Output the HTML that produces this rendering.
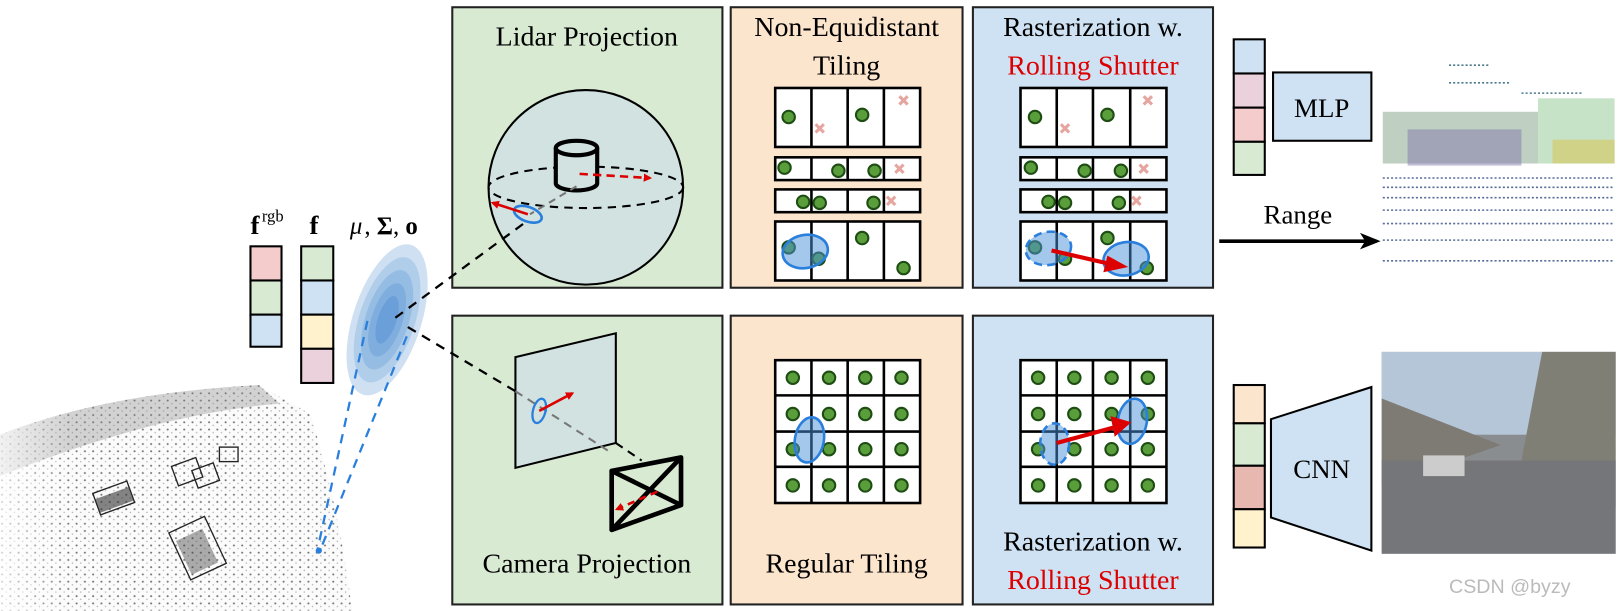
<!DOCTYPE html>
<html><head><meta charset="utf-8"><style>
html,body{margin:0;padding:0;background:#fff;}
svg{display:block;}
text{font-family:"Liberation Serif",serif;}
</style></head><body>
<svg width="1623" height="611" viewBox="0 0 1623 611" xmlns="http://www.w3.org/2000/svg">
<defs>
<marker id="ar" markerWidth="8" markerHeight="8" refX="6" refY="4" orient="auto" markerUnits="userSpaceOnUse"><path d="M0,0 L8,4 L0,8 z" fill="#d00"/></marker>
<marker id="ak" markerWidth="20" markerHeight="16" refX="16" refY="8" orient="auto" markerUnits="userSpaceOnUse"><path d="M0,0 L20,8 L0,16 L5,8 z" fill="#000"/></marker>
<pattern id="spk" width="8" height="7" patternUnits="userSpaceOnUse"><rect width="8" height="7" fill="#fafafa"/><circle cx="2" cy="2" r="1" fill="#555"/><circle cx="6" cy="5" r="0.7" fill="#999"/></pattern>
<linearGradient id="fade" x1="0" y1="0" x2="1" y2="0"><stop offset="0" stop-color="#fff" stop-opacity="0.7"/><stop offset="0.2" stop-color="#fff" stop-opacity="0"/></linearGradient>
</defs>
<g transform="scale(1.035)">
<!-- point cloud -->
<path d="M0,420 Q100,380 250,372 L300,400 Q330,500 340,590 L0,590 z" fill="url(#spk)" opacity="0.8"/>
<path d="M0,420 Q100,380 250,372 L270,390 Q150,400 0,460 z" fill="#888" opacity="0.35"/>
<path d="M0,420 Q100,380 250,372 L300,400 Q330,500 340,590 L0,590 z" fill="url(#fade)"/>
<g fill="none" stroke="#222" stroke-width="1.3">
<rect x="92" y="470" width="35" height="22" transform="rotate(-20 110 480)"/>
<rect x="168" y="446" width="25" height="20" transform="rotate(-20 180 455)"/>
<rect x="188" y="450" width="22" height="18" transform="rotate(-20 200 460)"/>
<rect x="172" y="505" width="38" height="50" transform="rotate(-25 190 530)"/>
<rect x="212" y="432" width="18" height="14"/>
</g>
<g fill="#333"><rect x="92" y="476" width="35" height="14" transform="rotate(-20 110 480)" opacity="0.6"/><rect x="175" y="515" width="28" height="36" transform="rotate(-25 190 530)" opacity="0.4"/></g>
<!-- feature columns -->
<text x="242" y="226" font-size="26" font-weight="bold">f</text><text x="253" y="214" font-size="16">rgb</text>
<text x="299" y="226" font-size="26" font-weight="bold">f</text>
<text x="338" y="226" font-size="24" font-style="italic">μ</text><text x="352" y="226" font-size="24">, <tspan font-weight="bold">Σ</tspan>, <tspan font-weight="bold">o</tspan></text>
<g stroke="#000" stroke-width="2">
<rect x="242" y="238" width="30" height="33" fill="#f4cccc"/><rect x="242" y="271" width="30" height="33" fill="#d9ead3"/><rect x="242" y="304" width="30" height="31" fill="#cfe2f3"/>
<rect x="291" y="238" width="31" height="33" fill="#d9ead3"/><rect x="291" y="271" width="31" height="33" fill="#cfe2f3"/><rect x="291" y="304" width="31" height="33" fill="#fff2cc"/><rect x="291" y="337" width="31" height="33" fill="#ead1dc"/>
</g>
<!-- gaussian -->
<g transform="rotate(18 374 309)">
<ellipse cx="374" cy="309" rx="33" ry="76" fill="#cfe0f2"/><ellipse cx="374" cy="309" rx="27" ry="63" fill="#b0cde9"/><ellipse cx="374" cy="309" rx="21" ry="50" fill="#95bce3"/><ellipse cx="374" cy="309" rx="15" ry="37" fill="#7fadde"/><ellipse cx="374" cy="309" rx="9" ry="24" fill="#6b9fd9"/></g>
<path d="M355,310 L307,530 M393,325 L310,530" stroke="#2a7fdc" stroke-width="2.2" stroke-dasharray="9,7" fill="none"/>
<circle cx="308" cy="532" r="3" fill="#2a7fdc"/>
<!-- panels -->
<g stroke="#222" stroke-width="2">
<rect x="437" y="7" width="261" height="271" fill="#d9ead3"/>
<rect x="706" y="7" width="224" height="271" fill="#fce5cd"/>
<rect x="940" y="7" width="232" height="271" fill="#cfe2f3"/>
<rect x="437" y="305" width="261" height="279" fill="#d9ead3"/>
<rect x="706" y="305" width="224" height="279" fill="#fce5cd"/>
<rect x="940" y="305" width="232" height="279" fill="#cfe2f3"/>
</g>
<text x="567" y="44" font-size="27" text-anchor="middle">Lidar Projection</text>
<text x="818" y="35" font-size="27" text-anchor="middle">Non-Equidistant</text>
<text x="818" y="72" font-size="27" text-anchor="middle">Tiling</text>
<text x="1056" y="35" font-size="27" text-anchor="middle">Rasterization w.</text>
<text x="1056" y="72" font-size="27" text-anchor="middle" fill="#d00">Rolling Shutter</text>
<text x="567" y="553" font-size="27" text-anchor="middle">Camera Projection</text>
<text x="818" y="553" font-size="27" text-anchor="middle">Regular Tiling</text>
<text x="1056" y="532" font-size="27" text-anchor="middle">Rasterization w.</text>
<text x="1056" y="569" font-size="27" text-anchor="middle" fill="#d00">Rolling Shutter</text>
<!-- lidar sphere -->
<circle cx="566" cy="181" r="94" fill="#d1e2e0" stroke="#000" stroke-width="2"/>
<ellipse cx="566" cy="181" rx="94" ry="20" fill="none" stroke="#000" stroke-width="2" stroke-dasharray="8,6"/>
<path d="M537,143 L537,177 A20,7 0 0 0 577,177 L577,143" fill="#d1e2e0" stroke="#000" stroke-width="4"/>
<ellipse cx="557" cy="143" rx="20" ry="7" fill="#d1e2e0" stroke="#000" stroke-width="4"/>
<path d="M557,180 L512,207" stroke="#777" stroke-width="2" stroke-dasharray="7,5"/>
<path d="M560,168 L628,172" stroke="#d00" stroke-width="2.5" stroke-dasharray="8,5" marker-end="url(#ar)"/>
<ellipse cx="510" cy="207" rx="14" ry="7" transform="rotate(20 510 207)" fill="none" stroke="#2a7fdc" stroke-width="2.5"/>
<path d="M510,207 L476,196" stroke="#d00" stroke-width="2.5" marker-end="url(#ar)"/>
<!-- connectors -->
<path d="M382,307 L510,213" stroke="#000" stroke-width="2.2" stroke-dasharray="9,7"/>
<path d="M394,316 L498,378" stroke="#000" stroke-width="2.2" stroke-dasharray="9,7"/>
<!-- camera -->
<path d="M498,345 L595,322 L595,428 L498,452 z" fill="#d1e2e0" stroke="#000" stroke-width="2"/>
<path d="M498,378 L590,437" stroke="#777" stroke-width="2" stroke-dasharray="8,6"/>
<ellipse cx="521" cy="397" rx="6" ry="12" transform="rotate(15 521 397)" fill="none" stroke="#2a7fdc" stroke-width="2.2"/>
<path d="M521,397 L553,380" stroke="#d00" stroke-width="2.5" marker-end="url(#ar)"/>
<path d="M595,428 L620,445" stroke="#000" stroke-width="2" stroke-dasharray="8,6"/>
<g stroke="#000" stroke-width="4.5" fill="none" stroke-linejoin="round">
<path d="M591,455 L658,442 L658,488 L591,512 z"/><path d="M591,455 L658,488 M658,442 L591,512"/>
</g>
<path d="M635,475 L596,492" stroke="#d00" stroke-width="2.5" stroke-dasharray="7,5" marker-end="url(#ar)"/>
<!-- grids -->
<g stroke="#000" stroke-width="2.5" fill="#fff">
<rect x="749" y="85" width="140" height="57"/><rect x="749" y="152" width="140" height="22"/><rect x="749" y="183" width="140" height="22"/><rect x="749" y="214" width="140" height="57"/>
<rect x="986" y="85" width="141" height="57"/><rect x="986" y="152" width="141" height="22"/><rect x="986" y="183" width="141" height="22"/><rect x="986" y="214" width="141" height="57"/>
<rect x="749" y="348" width="140" height="138"/><rect x="986" y="348" width="141" height="138"/>
</g>
<g stroke="#000" stroke-width="2.5">
<path d="M784,85 V142 M819,85 V142 M854,85 V142 M784,152 V174 M819,152 V174 M854,152 V174 M784,183 V205 M819,183 V205 M854,183 V205 M784,214 V271 M819,214 V271 M854,214 V271"/>
<path d="M1021,85 V142 M1056,85 V142 M1092,85 V142 M1021,152 V174 M1056,152 V174 M1092,152 V174 M1021,183 V205 M1056,183 V205 M1092,183 V205 M1021,214 V271 M1056,214 V271 M1092,214 V271"/>
<path d="M784,348 V486 M819,348 V486 M854,348 V486 M749,382 H889 M749,417 H889 M749,451 H889"/>
<path d="M1021,348 V486 M1056,348 V486 M1092,348 V486 M986,382 H1127 M986,417 H1127 M986,451 H1127"/>
</g>
<g fill="#5a9e3c" stroke="#1e4d14" stroke-width="2">
<circle cx="762" cy="113" r="6"/><circle cx="833" cy="111" r="6"/>
<circle cx="758" cy="162" r="6"/><circle cx="810" cy="165" r="6"/><circle cx="845" cy="165" r="6"/>
<circle cx="776" cy="195" r="6"/><circle cx="792" cy="196" r="6"/><circle cx="844" cy="196" r="6"/>
<circle cx="762" cy="239" r="6"/><circle cx="791" cy="250" r="6"/><circle cx="833" cy="230" r="6"/><circle cx="873" cy="259" r="6"/>
<circle cx="1000" cy="113" r="6"/><circle cx="1070" cy="111" r="6"/>
<circle cx="996" cy="162" r="6"/><circle cx="1048" cy="165" r="6"/><circle cx="1083" cy="165" r="6"/>
<circle cx="1013" cy="195" r="6"/><circle cx="1029" cy="196" r="6"/><circle cx="1081" cy="196" r="6"/>
<circle cx="1000" cy="239" r="6"/><circle cx="1029" cy="250" r="6"/><circle cx="1070" cy="230" r="6"/><circle cx="1108" cy="259" r="6"/>
</g>
<g fill="#5a9e3c" stroke="#1e4d14" stroke-width="2">
<circle cx="766" cy="365" r="6"/><circle cx="801" cy="365" r="6"/><circle cx="836" cy="365" r="6"/><circle cx="871" cy="365" r="6"/>
<circle cx="766" cy="400" r="6"/><circle cx="801" cy="400" r="6"/><circle cx="836" cy="400" r="6"/><circle cx="871" cy="400" r="6"/>
<circle cx="766" cy="434" r="6"/><circle cx="801" cy="434" r="6"/><circle cx="836" cy="434" r="6"/><circle cx="871" cy="434" r="6"/>
<circle cx="766" cy="469" r="6"/><circle cx="801" cy="469" r="6"/><circle cx="836" cy="469" r="6"/><circle cx="871" cy="469" r="6"/>
<circle cx="1003" cy="365" r="6"/><circle cx="1038" cy="365" r="6"/><circle cx="1074" cy="365" r="6"/><circle cx="1109" cy="365" r="6"/>
<circle cx="1003" cy="400" r="6"/><circle cx="1038" cy="400" r="6"/><circle cx="1074" cy="400" r="6"/><circle cx="1109" cy="400" r="6"/>
<circle cx="1003" cy="434" r="6"/><circle cx="1038" cy="434" r="6"/><circle cx="1074" cy="434" r="6"/><circle cx="1109" cy="434" r="6"/>
<circle cx="1003" cy="469" r="6"/><circle cx="1038" cy="469" r="6"/><circle cx="1074" cy="469" r="6"/><circle cx="1109" cy="469" r="6"/>
</g>
<g stroke="#e6a6a0" stroke-width="3">
<path d="M788,120 l8,8 m0,-8 l-8,8 M869,93 l8,8 m0,-8 l-8,8 M865,159 l8,8 m0,-8 l-8,8 M857,190 l8,8 m0,-8 l-8,8"/>
<path d="M1025,120 l8,8 m0,-8 l-8,8 M1105,93 l8,8 m0,-8 l-8,8 M1101,159 l8,8 m0,-8 l-8,8 M1094,190 l8,8 m0,-8 l-8,8"/>
</g>
<ellipse cx="778" cy="243" rx="22" ry="16" transform="rotate(-10 778 243)" fill="#4a90d9" fill-opacity="0.5" stroke="#2a7fdc" stroke-width="2.5"/>
<ellipse cx="1013" cy="240" rx="22" ry="16" transform="rotate(-10 1013 240)" fill="#4a90d9" fill-opacity="0.5" stroke="#2a7fdc" stroke-width="2.5" stroke-dasharray="8,5"/>
<ellipse cx="1088" cy="250" rx="22" ry="16" transform="rotate(-10 1088 250)" fill="#4a90d9" fill-opacity="0.5" stroke="#2a7fdc" stroke-width="2.5"/>
<path d="M1016,242 L1077,256" stroke="#d00" stroke-width="4"/><path d="M1070,247 L1090,258 L1066,263 z" fill="#d00"/>
<ellipse cx="782" cy="425" rx="14" ry="22" transform="rotate(10 782 425)" fill="#4a90d9" fill-opacity="0.5" stroke="#2a7fdc" stroke-width="2.5"/>
<ellipse cx="1019" cy="429" rx="14" ry="20" fill="#4a90d9" fill-opacity="0.5" stroke="#2a7fdc" stroke-width="2.5" stroke-dasharray="8,5"/>
<ellipse cx="1094" cy="407" rx="14" ry="22" transform="rotate(10 1094 407)" fill="#4a90d9" fill-opacity="0.5" stroke="#2a7fdc" stroke-width="2.5"/>
<path d="M1021,428 L1080,412" stroke="#d00" stroke-width="4"/><path d="M1073,402 L1093,408 L1077,422 z" fill="#d00"/>
<!-- right -->
<g stroke="#000" stroke-width="2">
<rect x="1192" y="38" width="30" height="33" fill="#cfe2f3"/><rect x="1192" y="71" width="30" height="33" fill="#ead1dc"/><rect x="1192" y="104" width="30" height="33" fill="#f4cccc"/><rect x="1192" y="137" width="30" height="32" fill="#d9ead3"/>
<rect x="1230" y="70" width="95" height="66" fill="#cfe2f3"/>
<rect x="1192" y="372" width="30" height="37" fill="#fce5cd"/><rect x="1192" y="409" width="30" height="41" fill="#d9ead3"/><rect x="1192" y="450" width="30" height="42" fill="#e6b8af"/><rect x="1192" y="492" width="30" height="37" fill="#fff2cc"/>
<path d="M1228,405 L1325,374 L1325,532 L1228,500 z" fill="#cfe2f3"/>
</g>
<text x="1277" y="113" font-size="26" text-anchor="middle">MLP</text>
<text x="1277" y="462" font-size="26" text-anchor="middle">CNN</text>
<text x="1254" y="216" font-size="26" text-anchor="middle">Range</text>
<path d="M1178,233 L1330,233" stroke="#000" stroke-width="3.5" marker-end="url(#ak)"/>
<!-- range image -->
<g stroke-width="1.5">
<rect x="1336" y="108" width="150" height="50" fill="#8aa88e" opacity="0.55"/>
<rect x="1360" y="125" width="110" height="35" fill="#7a6fa8" opacity="0.45"/>
<rect x="1486" y="95" width="74" height="63" fill="#99cc99" opacity="0.55"/>
<rect x="1500" y="135" width="60" height="23" fill="#d9c24a" opacity="0.5"/>
<path d="M1336,172 H1560 M1336,181 H1560 M1336,191 H1560 M1336,203 H1560 M1336,216 H1560 M1336,232 H1560 M1336,252 H1560" stroke="#5a6e99" stroke-dasharray="2,2"/>
<path d="M1400,63 H1440 M1400,80 H1460 M1470,90 H1530" stroke="#4b7a8a" stroke-dasharray="2,2"/>
</g>
<!-- photo -->
<rect x="1335" y="340" width="226" height="195" fill="#8a8d90"/>
<rect x="1335" y="340" width="226" height="80" fill="#b4c6d8"/>
<path d="M1335,385 L1450,430 L1335,470 z" fill="#7e7a74"/>
<path d="M1490,340 L1561,340 L1561,490 L1470,445 z" fill="#7f7f76"/>
<rect x="1335" y="445" width="226" height="90" fill="#757679"/>
<rect x="1375" y="440" width="40" height="20" fill="#ccc"/>
<text x="1400" y="573" font-size="19" fill="#bbb" style="font-family:'Liberation Sans',sans-serif">CSDN @byzy</text>
</g>
</svg>
</body></html>
